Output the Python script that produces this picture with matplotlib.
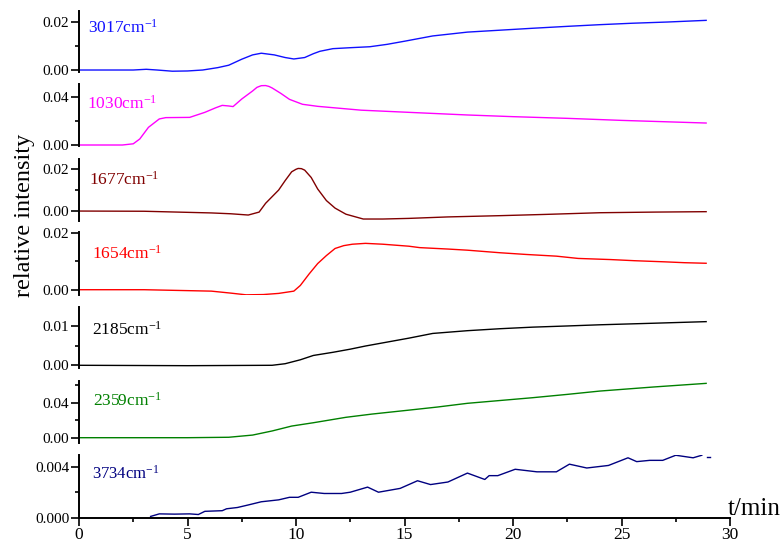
import matplotlib
matplotlib.use("Agg")
import matplotlib.pyplot as plt
from matplotlib.ticker import FixedLocator, FormatStrFormatter, MultipleLocator

plt.rcParams['font.family'] = ['Liberation Serif', 'DejaVu Serif']
plt.rcParams['mathtext.fontset'] = 'custom'
plt.rcParams['mathtext.rm'] = 'Liberation Serif'
plt.rcParams['mathtext.it'] = 'Liberation Serif'

# ---------------- data ----------------
labels = ["3017", "1030", "1677", "1654", "2185", "2359", "3734"]
colors = ["#1010FF", "#FF00FF", "#800000", "#FF0000", "#000000", "#008000", "#000080"]

t3017 = [0, 2.5, 3.1, 3.6, 4.3, 5.0, 5.7, 6.4, 6.9, 7.5, 8.0, 8.4, 9.0, 9.5, 9.9, 10.4, 10.8, 11.1,
         11.7, 12.5, 13.4, 14.2, 15.0, 16.3, 17.9, 19.4, 20.9, 22.5, 24.0, 25.5, 27.1, 28.9]
v3017 = [0, 0, 0.0003, 0.0, -0.0005, -0.0004, 0.0, 0.001, 0.002, 0.0045, 0.0063, 0.007, 0.0063,
         0.0052, 0.0046, 0.0052, 0.0068, 0.0078, 0.0089, 0.0093, 0.0097, 0.0107, 0.0120, 0.0142,
         0.0158, 0.0166, 0.0174, 0.0182, 0.0189, 0.0195, 0.0200, 0.0207]

t1030 = [0, 2.0, 2.5, 2.8, 3.2, 3.7, 4.0, 5.1, 5.8, 6.3, 6.6, 6.9, 7.1, 7.5, 8.0, 8.2, 8.4, 8.6,
         8.75, 8.9, 9.3, 9.7, 10.3, 11.0, 11.5, 13.0, 15.2, 17.9, 20.0, 22.5, 25.0, 28.9]
v1030 = [0, 0, 0.001, 0.005, 0.0147, 0.0217, 0.0228, 0.023, 0.0272, 0.031, 0.033, 0.0325, 0.032,
         0.0383, 0.045, 0.048, 0.0494, 0.0495, 0.0488, 0.0475, 0.043, 0.038, 0.0339, 0.0322,
         0.0314, 0.029, 0.0272, 0.025, 0.0236, 0.0222, 0.0205, 0.0183]

t1677 = [0, 3.0, 6.1, 7.0, 7.8, 8.3, 8.6, 9.2, 9.5, 9.8, 10.0, 10.1, 10.25, 10.4, 10.7, 11.0,
         11.4, 11.8, 12.3, 13.1, 14.0, 15.2, 17.0, 19.4, 21.5, 24.0, 26.5, 28.9]
v1677 = [0, -0.0001, -0.0009, -0.0013, -0.0019, -0.0005, 0.0037, 0.01, 0.0145, 0.0187, 0.0199,
         0.0203, 0.0202, 0.0195, 0.016, 0.0105, 0.005, 0.0014, -0.0015, -0.0038, -0.0038,
         -0.0035, -0.0028, -0.0022, -0.0016, -0.0008, -0.0005, -0.0003]

t1654 = [0, 3.0, 6.1, 7.0, 7.7, 8.5, 9.2, 9.9, 10.2, 10.6, 11.0, 11.4, 11.8, 12.2, 12.6, 13.2,
         14.0, 15.2, 15.7, 17.0, 17.9, 19.4, 20.6, 22.0, 23.0, 24.5, 25.6, 27.0, 27.9, 28.9]
v1654 = [0, 0, -0.0005, -0.0012, -0.0018, -0.0017, -0.0013, -0.0005, 0.0015, 0.0055, 0.0092,
         0.012, 0.0145, 0.0155, 0.016, 0.0163, 0.0160, 0.0153, 0.0148, 0.0143, 0.0139, 0.013,
         0.0124, 0.0118, 0.011, 0.0106, 0.0102, 0.0098, 0.0095, 0.0093]

t2185 = [0, 5, 8.9, 9.5, 10.2, 10.8, 11.7, 12.5, 13.2, 14.2, 15.2, 16.3, 17.9, 19.4, 20.9, 22.5,
         24.0, 26.5, 28.9]
v2185 = [0, -0.0001, 0, 0.0004, 0.0014, 0.0025, 0.0033, 0.0041, 0.0049, 0.0059, 0.0069, 0.0081,
         0.0088, 0.0093, 0.0097, 0.0100, 0.0103, 0.0107, 0.0111]

t2359 = [0, 5, 6.9, 8.0, 8.9, 9.8, 10.8, 12.3, 13.5, 15.2, 16.5, 17.9, 19.4, 20.9, 22.5, 24.0,
         26.5, 28.9]
v2359 = [0, 0, 0.0005, 0.003, 0.0077, 0.0133, 0.0171, 0.0233, 0.0270, 0.0315, 0.035, 0.0393,
         0.0425, 0.0457, 0.0495, 0.0533, 0.058, 0.0621]

t3734 = [3.3, 3.7, 4.4, 5.1, 5.5, 5.8, 6.6, 6.8, 7.3, 7.8, 8.4, 9.2, 9.7, 10.1, 10.7, 11.3, 12.1,
         12.5, 13.3, 13.8, 14.8, 15.6, 16.2, 17.0, 17.9, 18.7, 18.9, 19.3, 20.1, 21.1, 22.0, 22.6,
         23.4, 24.4, 25.3, 25.7, 26.3, 26.9, 27.5, 28.3, 28.7]
v3734 = [0.0001, 0.0003, 0.00028, 0.0003, 0.00025, 0.0005, 0.00055, 0.0007, 0.0008, 0.001,
         0.00125, 0.0014, 0.0016, 0.0016, 0.002, 0.0019, 0.0019, 0.002, 0.0024, 0.002, 0.0023,
         0.0029, 0.0026, 0.0028, 0.0035, 0.003, 0.0033, 0.0033, 0.0038, 0.0036, 0.0036, 0.0042,
         0.0039, 0.0041, 0.0047, 0.0044, 0.0045, 0.0045, 0.0049, 0.0047, 0.0049]
t3734_tail = [28.95, 29.1]
v3734_tail = [0.0048, 0.0048]

series_t = [t3017, t1030, t1677, t1654, t2185, t2359, t3734]
series_v = [v3017, v1030, v1677, v1654, v2185, v2359, v3734]

ylims = [(-0.00083, 0.0246), (-0.00083, 0.0508), (-0.0046, 0.0248), (-0.00186, 0.0204),
         (-0.00069, 0.0149), (-0.0064, 0.0648), (0.0, 0.00492)]
major_ticks = [[0, 0.02], [0, 0.04], [0, 0.02], [0, 0.02], [0, 0.01], [0, 0.04], [0, 0.004]]
minor_ticks = [[0.01], [0.02], [0.01], [0.01], [0.005], [0.02, 0.06], [0.002]]
fmts = ['%.2f'] * 6 + ['%.3f']

# ---------------- layout (pixels) ----------------
W, H = 783, 539
left_px, right_px = 79, 730
panel_px = [(11, 72), (84, 146), (159, 220.7), (231.7, 295), (306.7, 368), (381, 443.3), (455, 517.7)]
label_pos = [(0.014, 0.651), (0.013, 0.608), (0.016, 0.579), (0.02, 0.58), (0.02, 0.55),
             (0.0215, 0.599), (0.02, 0.628)]

fig = plt.figure(figsize=(W / 100, H / 100), dpi=100)

for i, (top, bot) in enumerate(panel_px):
    ax = fig.add_axes([left_px / W, 1 - bot / H, (right_px - left_px) / W, (bot - top) / H])
    ax.plot(series_t[i], series_v[i], color=colors[i], lw=1.0)
    if i == 6:
        ax.plot(t3734_tail, v3734_tail, color=colors[i], lw=1.0)
    ax.set_xlim(0, 30)
    ax.set_ylim(*ylims[i])
    ax.patch.set_alpha(0)
    for s in ['top', 'right']:
        ax.spines[s].set_visible(False)
    ax.spines['left'].set_linewidth(1.4)
    ax.yaxis.set_major_locator(FixedLocator(major_ticks[i]))
    ax.yaxis.set_minor_locator(FixedLocator(minor_ticks[i]))
    ax.yaxis.set_major_formatter(FormatStrFormatter(fmts[i]))
    ax.tick_params(axis='y', which='major', direction='out', length=6, width=1.2,
                   labelsize=11, pad=1)
    ax.tick_params(axis='y', which='minor', direction='out', length=3, width=1.2)
    if i < 6:
        ax.spines['bottom'].set_visible(False)
        ax.tick_params(axis='x', which='both', bottom=False, labelbottom=False)
    else:
        ax.spines['bottom'].set_linewidth(1.4)
        ax.xaxis.set_major_locator(MultipleLocator(5))
        ax.xaxis.set_minor_locator(MultipleLocator(2.5))
        ax.tick_params(axis='x', which='major', direction='out', length=6, width=1.2,
                       labelsize=12.5, pad=1)
        ax.tick_params(axis='x', which='minor', direction='out', length=3, width=1.2)
    lx, ly = label_pos[i]
    ax.text(lx, ly, labels[i] + r"cm$^{-1}$", transform=ax.transAxes, color=colors[i],
            fontsize=12.5 if i < 6 else 12, ha='left', va='baseline')

fig.text(25 / W, 1 - 215 / H, "relative intensity", rotation=90, fontsize=17.5,
         ha='center', va='center')
fig.text(728 / W, 1 - 515 / H, "t/min", fontsize=18, ha='left', va='baseline')

fig.savefig("out.png", dpi=100)
